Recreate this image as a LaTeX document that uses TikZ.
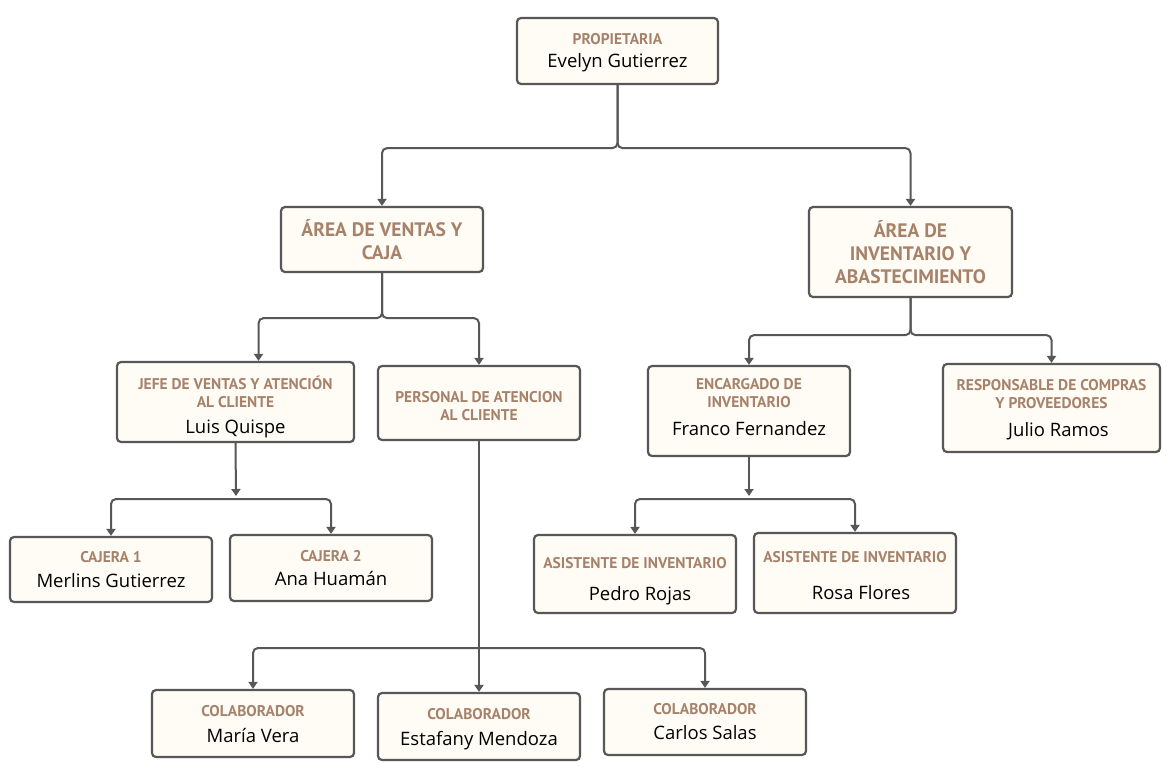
\documentclass[tikz,border=0pt]{standalone}
\usepackage{fontspec}
\setmainfont{Open Sans}
\newfontfamily\rolefont{PT Sans}
\usetikzlibrary{arrows.meta}
\definecolor{boxline}{HTML}{575757}
\definecolor{boxfill}{HTML}{FFFCF5}
\definecolor{roletext}{HTML}{A7826B}
\newcommand{\rol}[1]{{\rolefont\bfseries\fontsize{15.5}{18}\selectfont\color{roletext}#1}}
\newcommand{\sector}[1]{{\rolefont\bfseries\fontsize{19.5}{23}\selectfont\color{roletext}#1}}
\newcommand{\nom}[1]{{#1}}
\begin{document}
\begin{tikzpicture}[x=1pt, y=-1pt,
        box/.style={draw=boxline, line width=2.2pt, fill=boxfill, rounded corners=4pt, align=center, inner sep=0pt, minimum width=202pt, minimum height=66pt, font=\fontsize{18.5}{22}\selectfont},
        person/.style={box, text depth=0pt, text height=#1},
        conn/.style={draw=boxline, line width=2pt, rounded corners=5pt},
        arrow/.style={conn, -{Triangle[width=9pt,length=7pt]}}
    ]
        \useasboundingbox[fill=white] (0,0) rectangle (1172,777);

        \node[person=33pt, minimum width=201pt] (prop) at (617.5, 51) {\rol{PROPIETARIA}\\[1pt]\nom{Evelyn Gutierrez}};

        \node[box, minimum height=65pt] (ventas) at (382, 239.5) {\sector{ÁREA DE VENTAS Y}\\[1pt]\sector{CAJA}};
        \node[box, minimum width=203pt, minimum height=90pt] (inv) at (910.5, 252) {\sector{ÁREA DE}\\[1pt]\sector{INVENTARIO Y}\\[1pt]\sector{ABASTECIMIENTO}};

        \node[person=63pt, minimum width=237pt, minimum height=80pt] (jefe) at (235.5, 402) {\rol{JEFE DE VENTAS Y ATENCIÓN}\\[-4.3pt]\rol{AL CLIENTE}\\[4.5pt]\nom{Luis Quispe}};
        \node[person=34pt, minimum height=74pt] (pers) at (479, 403) {\rol{PERSONAL DE ATENCION}\\[-4.3pt]\rol{AL CLIENTE}};
        \node[person=49pt, minimum height=90pt] (enc) at (749, 411) {\rol{ENCARGADO DE}\\[-4.3pt]\rol{INVENTARIO}\\[6pt]\nom{Franco Fernandez}};
        \node[person=57pt, minimum width=217pt, minimum height=88pt] (resp) at (1051.5, 408) {\rol{RESPONSABLE DE COMPRAS}\\[-4.3pt]\rol{Y PROVEEDORES}\\[6pt]\nom{\hspace*{14pt}Julio Ramos}};

        \node[person=36pt, minimum height=65pt] (caj1) at (111, 569.5) {\rol{CAJERA 1}\\[3pt]\nom{Merlins Gutierrez}};
        \node[person=35pt] (caj2) at (331, 568) {\rol{CAJERA 2}\\[2pt]\nom{Ana Huamán}};
        \node[person=53pt, minimum height=78pt] (asis1) at (635, 574) {\rol{ASISTENTE DE INVENTARIO}\\[10pt]\nom{\hspace*{10pt}Pedro Rojas}};
        \node[person=53pt, minimum height=80pt] (asis2) at (855, 573) {\rol{ASISTENTE DE INVENTARIO}\\[15pt]\nom{\hspace*{12pt}Rosa Flores}};

        \node[person=38pt, minimum height=67pt] (col1) at (253, 723.5) {\rol{COLABORADOR}\\[4pt]\nom{María Vera}};
        \node[person=38pt, minimum height=67pt] (col2) at (479, 726.5) {\rol{COLABORADOR}\\[4pt]\nom{Estafany Mendoza}};
        \node[person=35pt] (col3) at (705, 722) {\rol{COLABORADOR}\\[3pt]\nom{Carlos Salas}};

        \coordinate (jb) at (236, 499);
        \coordinate (eb) at (749, 499);
        \coordinate (pb) at (479, 648);

        \draw[arrow] (prop.south) -- ++(0, 63) -| (ventas.north);
        \draw[arrow] (prop.south) -- ++(0, 63) -| (inv.north);

        \draw[arrow] (ventas.south) -- ++(0, 45) -| ([xshift=23pt]jefe.north);
        \draw[arrow] (ventas.south) -- ++(0, 45) -| (pers.north);
        \draw[arrow] (inv.south) -- ++(0, 37) -| (enc.north);
        \draw[arrow] (inv.south) -- ++(0, 37) -| (resp.north);

        \draw[arrow] (jefe.south) -- ([yshift=3pt]jb);
        \draw[arrow] (jb) -| (caj1.north);
        \draw[arrow] (jb) -| (caj2.north);

        \draw[arrow] (enc.south) -- ([yshift=3pt]eb);
        \draw[arrow] (eb) -| (asis1.north);
        \draw[arrow] (eb) -| (asis2.north);

        \draw[arrow] (pers.south) -- (col2.north);
        \draw[arrow] (pb) -| (col1.north);
        \draw[arrow] (pb) -| (col3.north);
    \end{tikzpicture}
\end{document}
